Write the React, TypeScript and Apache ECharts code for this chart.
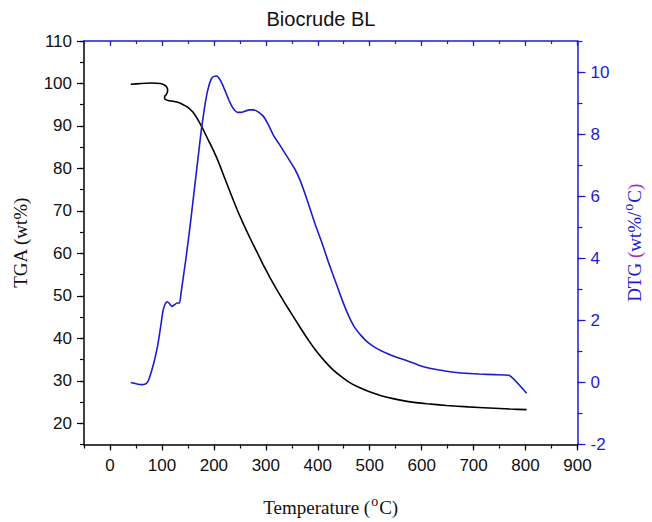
import React, { useEffect, useRef } from "react";
import * as echarts from "echarts";

// ---- data ----
const tgaTemp = [40, 60, 80, 97, 104, 109, 111, 109, 105, 106, 112, 122, 132, 141, 150, 160, 170, 180, 190, 200, 210, 220, 232, 245, 257, 270, 283, 295, 308, 320, 336, 352, 368, 383, 399, 415, 430, 446, 460, 475, 490, 505, 522, 545, 575, 610, 648, 690, 730, 770, 802];
const tgaValue = [99.8, 100.0, 100.1, 100.0, 99.7, 99.2, 98.4, 97.5, 96.9, 96.3, 96.0, 95.8, 95.5, 95.0, 94.4, 93.2, 91.3, 89.0, 86.5, 84.0, 81.2, 78.0, 74.2, 70.2, 66.9, 63.5, 60.3, 57.3, 54.3, 51.7, 48.4, 45.3, 42.2, 39.4, 36.7, 34.4, 32.5, 30.9, 29.7, 28.7, 27.9, 27.2, 26.5, 25.8, 25.1, 24.6, 24.2, 23.85, 23.6, 23.35, 23.2];

const dtgTemp = [40, 50, 62, 68, 72, 76, 84, 92, 98, 102, 106, 110, 114, 119, 124, 129, 134, 137, 146, 155, 163, 170, 176, 182, 188, 195, 200, 205, 210, 216, 222, 228, 234, 240, 246, 252, 260, 268, 276, 283, 295, 305, 315, 325, 340, 355, 365, 375, 385, 396, 408, 420, 433, 446, 458, 470, 484, 497, 510, 522, 545, 572, 600, 623, 648, 667, 690, 711, 740, 768, 802];
const dtgValue = [0.0, -0.04, -0.07, -0.05, 0.0, 0.15, 0.6, 1.2, 1.85, 2.3, 2.52, 2.6, 2.55, 2.45, 2.5, 2.56, 2.56, 2.9, 3.96, 5.15, 6.3, 7.3, 8.15, 8.85, 9.4, 9.78, 9.86, 9.87, 9.8, 9.62, 9.38, 9.13, 8.92, 8.77, 8.7, 8.7, 8.74, 8.78, 8.78, 8.74, 8.58, 8.3, 7.95, 7.7, 7.3, 6.9, 6.55, 6.1, 5.6, 5.05, 4.5, 3.9, 3.3, 2.7, 2.2, 1.8, 1.5, 1.28, 1.13, 1.02, 0.85, 0.7, 0.52, 0.43, 0.36, 0.32, 0.29, 0.27, 0.25, 0.23, -0.35];

const xTicks = [0, 100, 200, 300, 400, 500, 600, 700, 800, 900];
const tgaTicks = [20, 30, 40, 50, 60, 70, 80, 90, 100, 110];
const dtgTicks = [-2, 0, 2, 4, 6, 8, 10];

const BLUE = "#1c1cd2";
const PURPLE = "#9b30c8";
const SANS = "'Liberation Sans', Arial, sans-serif";
const SERIF = "'Liberation Serif', 'Times New Roman', serif";

export default function App() {
  const ref = useRef<HTMLDivElement>(null);
  useEffect(() => {
    if (!ref.current) return;
    const chart = echarts.init(ref.current, null, { renderer: "svg" });
    const tgaData = tgaTemp.map((t, i) => [t, tgaValue[i]]);
    const dtgData = dtgTemp.map((t, i) => [t, dtgValue[i]]);

    const baseX = { type: "value", min: -50, max: 900, splitLine: { show: false } };
    const option: any = {
      animation: false,
      backgroundColor: "#ffffff",
      title: {
        text: "Biocrude BL",
        left: 316,
        top: 4,
        textAlign: "center",
        textStyle: { fontFamily: SANS, fontSize: 20, fontWeight: "normal", color: "#111" },
      },
      grid: { left: 84, right: 65, top: 41, bottom: 76, containLabel: false },
      xAxis: [
        {
          ...baseX,
          position: "bottom",
          axisLine: { onZero: false, lineStyle: { color: "#000", width: 1.5 } },
          axisTick: { customValues: xTicks, length: 6, lineStyle: { color: "#000", width: 1.2 } },
          axisLabel: { customValues: xTicks, margin: 12, fontFamily: SANS, fontSize: 17, color: "#111" },
          name: "{a|Temperature (}{s|o}{a|C)}",
          nameLocation: "middle",
          nameGap: 50,
          nameTextStyle: {
            rich: {
              a: { fontFamily: SERIF, fontSize: 19, color: "#111" },
              s: { fontFamily: SERIF, fontSize: 14, color: "#111", padding: [0, 1, 12, 1] },
            },
          },
        },
        {
          ...baseX,
          position: "bottom",
          interval: 50,
          axisLine: { show: false, onZero: false },
          axisTick: { length: 4, lineStyle: { color: "#000", width: 1.2 } },
          axisLabel: { show: false },
        },
        {
          ...baseX,
          position: "top",
          axisLine: { onZero: false, lineStyle: { color: BLUE, width: 1.5 } },
          axisTick: { inside: true, customValues: xTicks, length: 5, lineStyle: { color: BLUE, width: 1.2 } },
          axisLabel: { show: false },
        },
        {
          ...baseX,
          position: "top",
          interval: 50,
          axisLine: { show: false, onZero: false },
          axisTick: { inside: true, length: 3, lineStyle: { color: BLUE, width: 1.2 } },
          axisLabel: { show: false },
        },
      ],
      yAxis: [
        {
          type: "value",
          position: "left",
          min: 15,
          max: 110,
          splitLine: { show: false },
          axisLine: { show: true, onZero: false, lineStyle: { color: "#000", width: 1.5 } },
          axisTick: { customValues: tgaTicks, length: 7, lineStyle: { color: "#000", width: 1.2 } },
          axisLabel: { customValues: tgaTicks, margin: 12, fontFamily: SANS, fontSize: 17, color: "#111" },
          name: "TGA (wt%)",
          nameLocation: "middle",
          nameRotate: 90,
          nameGap: 54,
          nameTextStyle: { fontFamily: SERIF, fontSize: 19, color: "#111" },
        },
        {
          type: "value",
          position: "left",
          min: 15,
          max: 110,
          interval: 5,
          splitLine: { show: false },
          axisLine: { show: false, onZero: false },
          axisTick: { show: true, length: 4, lineStyle: { color: "#000", width: 1.2 } },
          axisLabel: { show: false },
        },
        {
          type: "value",
          position: "right",
          min: -2,
          max: 11,
          splitLine: { show: false },
          axisLine: { show: true, onZero: false, lineStyle: { color: BLUE, width: 1.5 } },
          axisTick: { customValues: dtgTicks, length: 8, lineStyle: { color: BLUE, width: 1.2 } },
          axisLabel: { customValues: dtgTicks, margin: 13, fontFamily: SANS, fontSize: 17, color: BLUE },
          name: "{a|DTG }{p|(}{a|wt%/}{s|o}{a|C}{p|)}",
          nameLocation: "middle",
          nameRotate: 90,
          nameGap: 44,
          nameTextStyle: {
            rich: {
              a: { fontFamily: SERIF, fontSize: 19, color: BLUE },
              p: { fontFamily: SERIF, fontSize: 19, color: PURPLE },
              s: { fontFamily: SERIF, fontSize: 14, color: BLUE, padding: [0, 1, 12, 1] },
            },
          },
        },
        {
          type: "value",
          position: "right",
          min: -2,
          max: 11,
          interval: 1,
          splitLine: { show: false },
          axisLine: { show: false, onZero: false },
          axisTick: { show: true, length: 5, lineStyle: { color: BLUE, width: 1.2 } },
          axisLabel: { show: false },
        },
      ],
      series: [
        {
          name: "TGA",
          type: "line",
          xAxisIndex: 0,
          yAxisIndex: 0,
          data: tgaData,
          showSymbol: false,
          smooth: 0.15,
          lineStyle: { color: "#000", width: 1.6 },
          itemStyle: { color: "#000" },
        },
        {
          name: "DTG",
          type: "line",
          xAxisIndex: 0,
          yAxisIndex: 2,
          data: dtgData,
          showSymbol: false,
          smooth: 0.15,
          lineStyle: { color: BLUE, width: 1.6 },
          itemStyle: { color: BLUE },
        },
      ],
    };
    chart.setOption(option);
    return () => chart.dispose();
  }, []);
  return (
    <div
      ref={ref}
      style={{ position: "absolute", left: 0, top: 0, width: 652, height: 522, background: "#fff" }}
    />
  );
}
